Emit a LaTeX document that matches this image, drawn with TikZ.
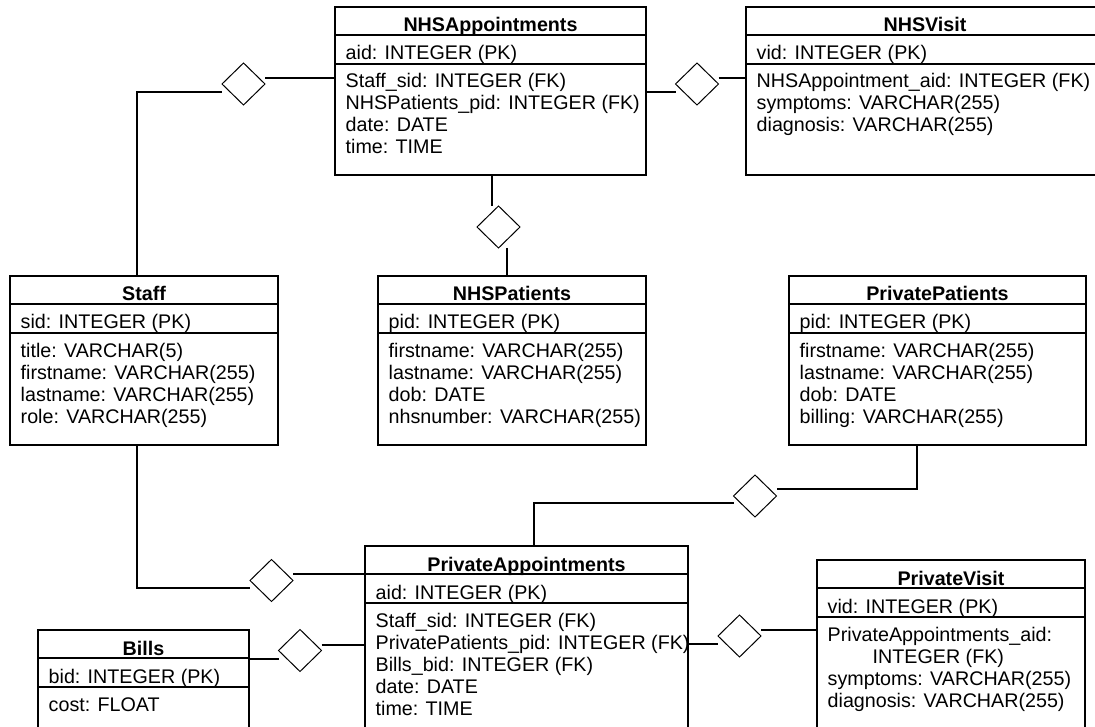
\documentclass[tikz,border=0pt]{standalone}
\usepackage{fontspec}
\setmainfont{Liberation Sans}
\usetikzlibrary{shapes.geometric}
\newcommand\erfont{\fontsize{19.7}{22}\selectfont}
\tikzset{
  box/.style={draw, line width=1.2pt, inner sep=0pt, outer sep=0pt},
  sepline/.style={line width=1.2pt},
  ttl/.style={font=\erfont\bfseries, inner sep=0pt, anchor=base},
  attr/.style={font=\erfont, inner sep=0pt, anchor=base west},
  rel/.style={diamond, draw, line width=1pt, minimum width=43pt, minimum height=42pt, inner sep=0pt, outer sep=0pt},
  conn/.style={line width=1.1pt},
}
\newcommand\entity[8]{%
  \node[box, minimum width=#4pt, minimum height=#5pt, anchor=north west] (#1) at (#2,#3) {};
  \draw[sepline] ([yshift=-28pt]#1.north west) -- ([yshift=-28pt]#1.north east);
  \draw[sepline] ([yshift=-57pt]#1.north west) -- ([yshift=-57pt]#1.north east);
  \node[ttl] (#1-title) at ([yshift=-25pt]#1.north) {#6};
  \node[attr] (#1-pk) at ([xshift=10.5pt,yshift=-53pt]#1.north west) {#7};
  \foreach \a [count=\i] in {#8} {
    \pgfmathsetmacro\yy{-81-22*(\i-1)}
    \node[attr] (#1-a\i) at ([xshift=10.5pt,yshift=\yy pt]#1.north west) {\a};
  }%
}
\begin{document}
\begin{tikzpicture}[x=1pt, y=-1pt]
\useasboundingbox (0,0) rectangle (1095,727);
\clip (0,0) rectangle (1095,727);

% entities
\entity{nhsapp}{335}{7}{311}{168}{NHSAppointments}{aid: INTEGER (PK)}{Staff\_sid: INTEGER (FK),NHSPatients\_pid: INTEGER (FK),date: DATE,time: TIME}
\entity{nhsvisit}{746}{7}{358}{168}{NHSVisit}{vid: INTEGER (PK)}{NHSAppointment\_aid: INTEGER (FK),symptoms: VARCHAR(255),diagnosis: VARCHAR(255)}
\entity{staff}{10}{276}{268}{169}{Staff}{sid: INTEGER (PK)}{title: VARCHAR(5),firstname: VARCHAR(255),lastname: VARCHAR(255),role: VARCHAR(255)}
\entity{nhspat}{378}{276}{268}{169}{NHSPatients}{pid: INTEGER (PK)}{firstname: VARCHAR(255),lastname: VARCHAR(255),dob: DATE,nhsnumber: VARCHAR(255)}
\entity{privpat}{789}{276}{297}{169}{PrivatePatients}{pid: INTEGER (PK)}{firstname: VARCHAR(255),lastname: VARCHAR(255),dob: DATE,billing: VARCHAR(255)}
\entity{privapp}{365}{546}{323}{191}{PrivateAppointments}{aid: INTEGER (PK)}{Staff\_sid: INTEGER (FK),PrivatePatients\_pid: INTEGER (FK),Bills\_bid: INTEGER (FK),date: DATE,time: TIME}
\entity{bills}{38}{630}{211}{120}{Bills}{bid: INTEGER (PK)}{cost: FLOAT}
\entity{privvisit}{817}{560}{268}{191}{PrivateVisit}{vid: INTEGER (PK)}{PrivateAppointments\_aid:,\hspace*{45pt}INTEGER (FK),symptoms: VARCHAR(255),diagnosis: VARCHAR(255)}

% relationship diamonds
\node[rel] (d1) at (243.5,84) {};
\node[rel] (d2) at (697,84) {};
\node[rel] (d3) at (498.5,227) {};
\node[rel] (d4) at (755,496) {};
\node[rel] (d5) at (271.5,580.5) {};
\node[rel] (d6) at (300,650.5) {};
\node[rel] (d7) at (739.5,636) {};

% routing coordinates
\coordinate (l1) at (0,78);
\coordinate (k1) at (137,92);
\coordinate (k3a) at (492,0);
\coordinate (k3b) at (507,0);
\coordinate (k4) at (917,489);
\coordinate (k5) at (534,503);
\coordinate (k6) at (137,588);
\coordinate (l5) at (0,574);
\coordinate (l6) at (0,659);
\coordinate (l7) at (0,645);
\coordinate (l8) at (0,644);
\coordinate (l9) at (0,630);

% connectors
\draw[conn] (staff.north -| k1) -- (k1) -- (d1.west |- k1);
\draw[conn] (d1.east |- l1) -- (nhsapp.west |- l1);
\draw[conn] (nhsapp.east |- k1) -- (d2.west |- k1);
\draw[conn] (d2.east |- l1) -- (nhsvisit.west |- l1);
\draw[conn] (nhsapp.south -| k3a) -- (d3.north -| k3a);
\draw[conn] (d3.south -| k3b) -- (nhspat.north -| k3b);
\draw[conn] (privpat.south -| k4) -- (k4) -- (d4.east |- k4);
\draw[conn] (d4.west |- k5) -- (k5) -- (privapp.north -| k5);
\draw[conn] (staff.south -| k6) -- (k6) -- (d5.west |- k6);
\draw[conn] (d5.east |- l5) -- (privapp.west |- l5);
\draw[conn] (bills.east |- l6) -- (d6.west |- l6);
\draw[conn] (d6.east |- l7) -- (privapp.west |- l7);
\draw[conn] (privapp.east |- l8) -- (d7.west |- l8);
\draw[conn] (d7.east |- l9) -- (privvisit.west |- l9);
\end{tikzpicture}
\end{document}
